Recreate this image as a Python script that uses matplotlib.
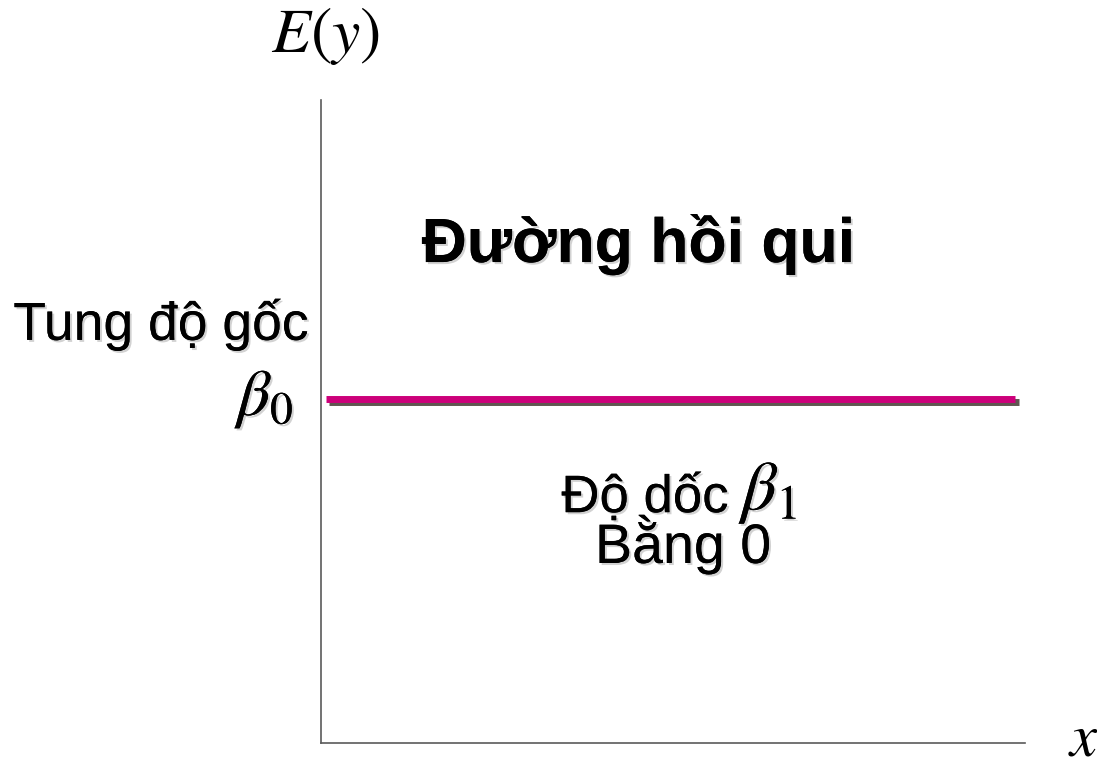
import matplotlib
matplotlib.use('Agg')
import matplotlib.pyplot as plt
import matplotlib.patheffects as pe

plt.rcParams['font.family'] = ['Liberation Sans', 'DejaVu Sans']

# Đường hồi qui nằm ngang: tung độ gốc beta0, độ dốc beta1 = 0
x_line = [0.007, 0.986]
beta0 = 0.535
beta1 = 0.0
y_line = [beta0 + beta1 * x for x in x_line]

text_shadow = [pe.withSimplePatchShadow(offset=(1.5, -1.5), shadow_rgbFace='gray', alpha=0.35),
               pe.Normal()]
line_shadow = [pe.SimpleLineShadow(offset=(2.5, -2.5), shadow_color='#5f5650', alpha=1.0),
               pe.Normal()]

fig = plt.figure(figsize=(10.97, 7.57), dpi=100)
ax = fig.add_axes([321 / 1097, 14 / 757, 704 / 1097, 643 / 757])
ax.set_xlim(0, 1)
ax.set_ylim(0, 1)

# chỉ giữ trục trái và trục dưới
for side in ['top', 'right']:
    ax.spines[side].set_visible(False)
for side in ['left', 'bottom']:
    ax.spines[side].set_color('#5a5a5a')
    ax.spines[side].set_linewidth(1.2)
ax.set_xticks([])
ax.set_yticks([])

ax.plot(x_line, y_line, color='#cc007a', linewidth=5, solid_capstyle='butt',
        path_effects=line_shadow)

ax.text(0.451, 0.748, 'Đường hồi qui', ha='center', va='baseline', fontsize=45,
        fontweight='bold', path_effects=text_shadow)
ax.text(-0.017, 0.627, 'Tung độ gốc', ha='right', va='baseline', fontsize=38.5,
        clip_on=False, path_effects=text_shadow)
ax.text(-0.035, 0.51, r'$\beta_0$', ha='right', va='baseline', fontsize=47,
        math_fontfamily='stix', clip_on=False, path_effects=text_shadow)

ax.text(0.579, 0.359, 'Độ dốc', ha='right', va='baseline', fontsize=38,
        path_effects=text_shadow)
ax.text(0.597, 0.363, r'$\beta_1$', ha='left', va='baseline', fontsize=50,
        math_fontfamily='stix', path_effects=text_shadow)
ax.text(0.514, 0.280, 'Bằng 0', ha='center', va='baseline', fontsize=40,
        path_effects=text_shadow)

ax.text(0.006, 1.075, r'$E(y)$', ha='center', va='baseline', fontsize=46,
        math_fontfamily='stix', clip_on=False)
ax.text(1.061, -0.019, r'$x$', ha='left', va='baseline', fontsize=44,
        math_fontfamily='stix', clip_on=False)

fig.savefig('out.png', dpi=100, facecolor='white')
